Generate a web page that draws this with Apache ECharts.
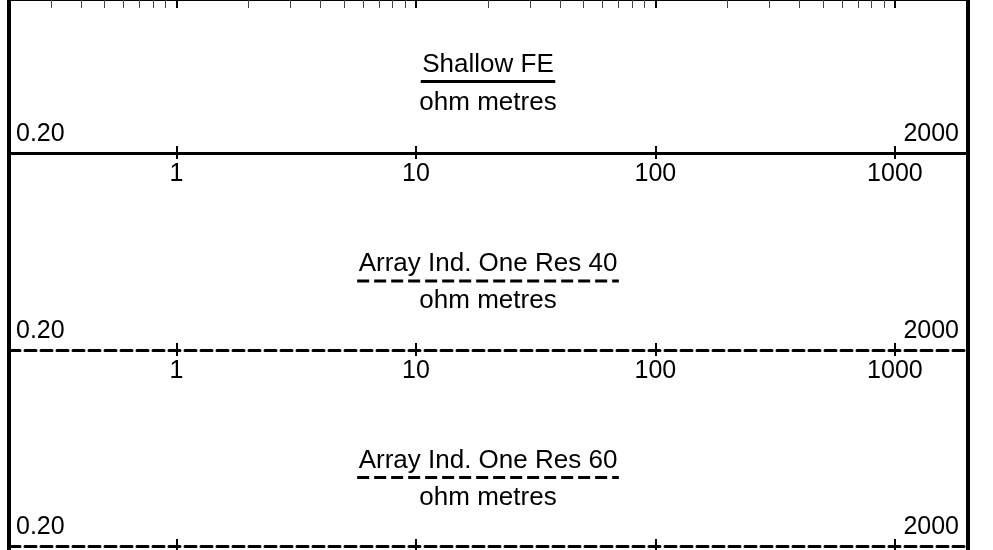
<!DOCTYPE html>
<html>
<head>
<meta charset="utf-8">
<script src="https://cdn.jsdelivr.net/npm/echarts@6/dist/echarts.min.js"></script>
<style>
  html, body { margin: 0; padding: 0; background: #fff; }
  #chart { width: 993px; height: 550px; }
</style>
</head>
<body>
<div id="chart"></div>
<script>
const trackNames = ['Shallow FE', 'Array Ind. One Res 40', 'Array Ind. One Res 60']
const trackUnits = ['ohm metres', 'ohm metres', 'ohm metres']
const trackLineTypes = ['solid', 'dashed', 'dashed']
const scaleMin = 0.2
const scaleMax = 2000
const decadeTicks = [1, 10, 100, 1000]
const decadeLabels = ['1', '10', '100', '1000']
const endValues = [0.2, 2000]
const endLabels = ['0.20', '2000']
const minorTicks = [0.3, 0.4, 0.5, 0.6, 0.7, 0.8, 0.9,
  2, 3, 4, 5, 6, 7, 8, 9,
  20, 30, 40, 50, 60, 70, 80, 90,
  200, 300, 400, 500, 600, 700, 800, 900]

// layout of each track header (pixels)
const axisY = [153, 350, 546]
const titleY = [64.5, 264, 460.5]
const underlineY = [81.5, 281, 477.5]
const unitY = [102.5, 301, 498]
const centerX = 488
const font = 'Liberation Sans'

const chart = echarts.init(document.getElementById('chart'), null, { renderer: 'canvas' })

const labelFor = (values, labels) => v => {
  let best = 0
  values.forEach((t, i) => {
    if (Math.abs(Math.log10(t) - Math.log10(v)) < Math.abs(Math.log10(values[best]) - Math.log10(v))) best = i
  })
  return labels[best]
}

const logAxis = (gridIndex) => ({
  type: 'log',
  logBase: 10,
  min: scaleMin,
  max: scaleMax,
  gridIndex: gridIndex,
  splitLine: { show: false },
  axisLine: { show: false, onZero: false },
  axisTick: { show: false },
  axisLabel: { show: false }
})

const grids = []
const xAxes = []
const yAxes = []

// ruler ticks of the track above, cut at the top edge
grids.push({ left: 9, right: 26, top: 0, height: 20, outerBoundsMode: 'none' })
xAxes.push(Object.assign(logAxis(0), {
  position: 'top',
  axisLine: { show: true, onZero: false, lineStyle: { color: '#000', width: 2 } },
  axisTick: { show: true, inside: true, length: 8, customValues: minorTicks, lineStyle: { color: '#444', width: 1 } }
}))
xAxes.push(Object.assign(logAxis(0), {
  position: 'top',
  axisTick: { show: true, inside: true, length: 8, customValues: decadeTicks, lineStyle: { color: '#000', width: 2 } }
}))
yAxes.push({ type: 'value', gridIndex: 0, show: false })

trackNames.forEach((name, i) => {
  const g = grids.length
  grids.push({ left: 9, right: 26, top: axisY[i] - 150, height: 150, outerBoundsMode: 'none' })
  const lineType = trackLineTypes[i] === 'dashed' ? [11, 5] : 'solid'
  xAxes.push(Object.assign(logAxis(g), {
    position: 'bottom',
    axisLine: { show: true, onZero: false, lineStyle: { color: '#000', width: 3, type: lineType } },
    axisTick: { show: true, inside: false, length: 6, customValues: decadeTicks, lineStyle: { color: '#000', width: 2 } },
    axisLabel: {
      show: true, margin: 9, customValues: decadeTicks,
      formatter: labelFor(decadeTicks, decadeLabels),
      color: '#000', fontSize: 25, fontFamily: font
    }
  }))
  xAxes.push(Object.assign(logAxis(g), {
    position: 'bottom',
    axisTick: { show: true, inside: true, length: 7, customValues: decadeTicks, lineStyle: { color: '#000', width: 2 } },
    axisLabel: {
      show: true, inside: true, margin: 6, customValues: endValues,
      formatter: labelFor(endValues, endLabels),
      alignMinLabel: 'left', alignMaxLabel: 'right',
      padding: [0, 8, 0, 7],
      color: '#000', fontSize: 25, fontFamily: font
    }
  }))
  yAxes.push({ type: 'value', gridIndex: g, show: false })
})

// track borders
const b = grids.length
grids.push({ left: 9, right: 25, top: 0, bottom: 0, outerBoundsMode: 'none' })
xAxes.push({ type: 'value', gridIndex: b, show: false })
const borderAxis = (pos) => ({
  type: 'value', gridIndex: b, position: pos,
  axisLine: { show: true, onZero: false, lineStyle: { color: '#000', width: 4 } },
  axisTick: { show: false }, axisLabel: { show: false }, splitLine: { show: false }
})
yAxes.push(borderAxis('left'), borderAxis('right'))

// header texts
const ctx = document.createElement('canvas').getContext('2d')
ctx.font = '26px "' + font + '"'
const graphic = []
trackNames.forEach((name, i) => {
  const w = ctx.measureText(name).width + 3
  graphic.push({
    type: 'text', x: centerX, y: titleY[i],
    style: { text: name, fill: '#000', fontSize: 26, fontFamily: font, align: 'center', verticalAlign: 'middle' }
  })
  graphic.push({
    type: 'line',
    shape: { x1: centerX - w / 2, y1: underlineY[i], x2: centerX + w / 2, y2: underlineY[i] },
    style: { stroke: '#000', lineWidth: 3, lineDash: trackLineTypes[i] === 'dashed' ? [12, 5] : null }
  })
  graphic.push({
    type: 'text', x: centerX, y: unitY[i],
    style: { text: trackUnits[i], fill: '#000', fontSize: 26, fontFamily: font, align: 'center', verticalAlign: 'middle' }
  })
})

chart.setOption({
  animation: false,
  backgroundColor: '#fff',
  grid: grids,
  xAxis: xAxes,
  yAxis: yAxes,
  graphic: graphic,
  series: []
})
</script>
</body>
</html>
